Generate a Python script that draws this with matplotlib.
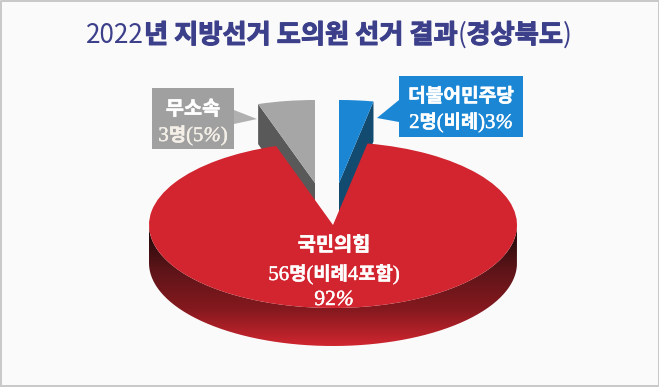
from matplotlib import pyplot as plt
from matplotlib import patheffects as pe
from matplotlib.patches import Wedge, Polygon, PathPatch, Rectangle
from matplotlib.path import Path
from matplotlib.transforms import Affine2D
from matplotlib.colors import LinearSegmentedColormap
import numpy as np

parties = ['국민의힘', '무소속', '더불어민주당']
seats = [56, 3, 2]
shares = [92, 5, 3]

KR = ['Noto Sans CJK KR', 'DejaVu Sans']
SERIF = ['Liberation Serif', 'DejaVu Serif']

fig = plt.figure(figsize=(6.59, 3.87), dpi=100, facecolor='#fafafb')
ax = fig.add_axes([0, 0, 1, 1])
ax.set_xlim(0, 659)
ax.set_ylim(387, 0)
ax.axis('off')

# frame around the image
ax.plot([0.5, 0.5, 658.5, 658.5, 0.5], [386, 0.5, 0.5, 386, 386], color='#c8c8c8', lw=1.4)

# pie geometry in pixels
cx, cy = 333, 225
a, b = 184, 83
depth = 38
red_share, gray_share, blue_share = shares
gray_ang = gray_share * 3.6
blue_ang = blue_share * 3.6
t_left = 90 + gray_ang
t_right = 90 - blue_ang


def tf(x, y):
	return Affine2D().scale(1, -b / a).translate(x, y) + ax.transData


def rim(x, y, ang):
	r = np.radians(ang)
	return x + a * np.cos(r), y - b * np.sin(r)


def side(x, y, ang, color):
	px, py = rim(x, y, ang)
	pts = [(px, py), (x, y), (x, y + depth + 5), (px, py + depth + 2)]
	ax.add_patch(Polygon(pts, closed=True, fc=color, ec='none', zorder=2))


# gray slice, pulled up
gx, gy = 315, 183
side(gx, gy, t_left, '#595959')
ax.add_patch(Wedge((0, 0), a, 90, t_left, fc='#a6a6a6', ec='none', zorder=3, transform=tf(gx, gy)))

# blue slice, pulled up
bx, by = 339, 183
side(bx, by, t_right, '#134a70')
ax.add_patch(Wedge((0, 0), a, t_right, 90, fc='#1b87d4', ec='none', zorder=3, transform=tf(bx, by)))

# red rim with gradient
th = np.radians(np.linspace(180, 360, 200))
upper = np.column_stack([cx + a * np.cos(th), cy - b * np.sin(th)])
lower = upper[::-1] + [0, depth]
verts = np.vstack([upper, lower, upper[:1]])
clip = PathPatch(Path(verts), fc='none', ec='none', transform=ax.transData)
ax.add_patch(clip)
cmap = LinearSegmentedColormap.from_list('rim', [(0, '#1e0709'), (0.1, '#2a0a0c'), (0.35, '#5a1418'), (0.7, '#85191f'), (1, '#d0262f')])
grad = np.linspace(0, 1, 256).reshape(-1, 1)
im = ax.imshow(grad, cmap=cmap, extent=(cx - a, cx + a, cy + b + depth, cy), aspect='auto', zorder=4)
im.set_clip_path(clip)
ax.set_xlim(0, 659)
ax.set_ylim(387, 0)

# red slice
ax.add_patch(Wedge((0, 0), a, t_left, t_right + 360, fc='#d2252f', ec='none', zorder=5, transform=tf(cx, cy)))

# label boxes
ax.add_patch(Rectangle((152, 88), 82, 61, fc='#a0a0a0', ec='none', zorder=6))
ax.add_patch(Polygon([(234, 110), (257, 119), (234, 124)], closed=True, fc='#b0b0b0', ec='none', zorder=6))
ax.add_patch(Rectangle((399, 76), 124, 61, fc='#1b87d4', ec='none', zorder=6))
ax.add_patch(Polygon([(399, 100), (377, 118), (399, 122)], closed=True, fc='#1b87d4', ec='none', zorder=6))

renderer = fig.canvas.get_renderer()


def runs(xc, y, parts, color='white', stroke=0):
	# lay pieces of mixed font side by side, centered on xc
	items = []
	total = 0
	for s, fam, size, weight, style in parts:
		t = ax.text(0, y, s, family=fam, fontsize=size, fontweight=weight, fontstyle=style,
			color=color, ha='left', va='baseline', zorder=8)
		if stroke and (fam is SERIF or weight == 'bold'):
			t.set_path_effects([pe.withStroke(linewidth=stroke, foreground=color)])
		w = t.get_window_extent(renderer).width
		items.append((t, w))
		total += w
	x = xc - total / 2
	for t, w in items:
		t.set_x(x)
		x += w


def k(s, size=14.2, weight='bold'):
	return (s, KR, size, weight, 'normal')


def n(s, size=15):
	return (s, SERIF, size, 'normal', 'normal')


def it(s, size=15):
	return (s, SERIF, size, 'normal', 'italic')


# title
navy = '#3c3f8a'
ts = 18.9
runs(329, 43, [('2022', KR, ts, 'light', 'normal'), k('년 지방선거 도의원 선거 결과', ts), ('(', KR, ts, 'light', 'normal'),
	k('경상북도', ts), (')', KR, ts, 'light', 'normal')], color=navy, stroke=0.8)

runs(193, 115, [k(parties[1])], stroke=0.4)
runs(193, 141, [n(str(seats[1])), k('명', 13.5), n('('), n(str(gray_share)), it('%'), n(')')], color='#f4f0e8', stroke=0.3)

runs(461, 102, [k(parties[2], 13.8)], stroke=0.4)
runs(461, 128, [n(str(seats[2])), k('명', 13.5), n('('), k('비례', 13.5), n(')'), n(str(blue_share)), it('%')], stroke=0.3)

runs(334, 251, [k(parties[0])], stroke=0.4)
runs(334, 280, [n(str(seats[0])), k('명', 13.5), n('('), k('비례', 13.5), n('4'), k('포함', 13.5), n(')')], stroke=0.3)
runs(334, 305, [n(str(red_share), 15.5), it('%', 15.5)], stroke=0.3)

fig.savefig('out.png', dpi=100, facecolor=fig.get_facecolor())
